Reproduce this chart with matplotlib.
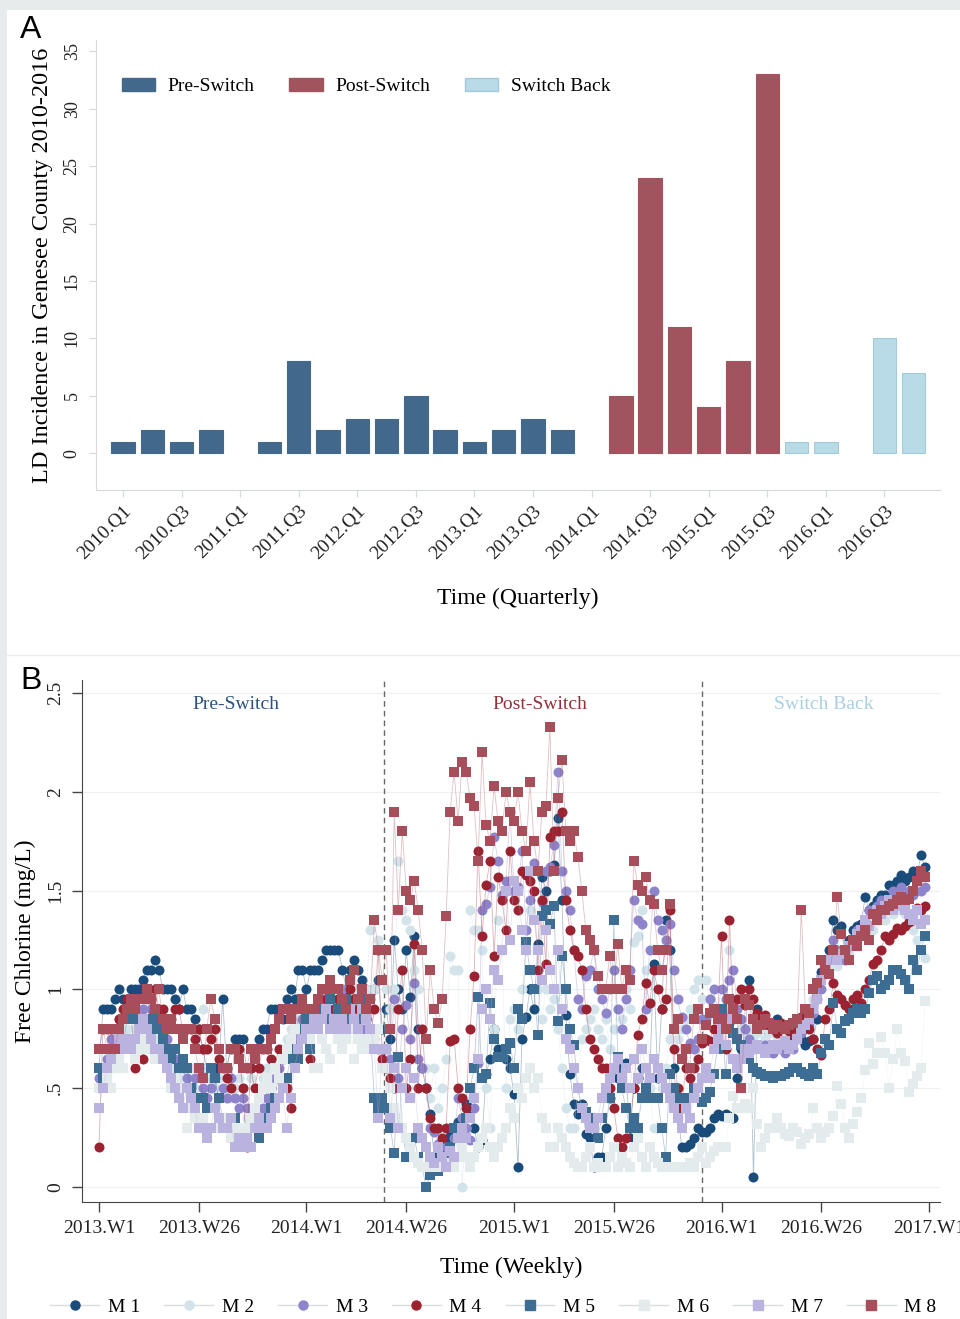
import numpy as np
import matplotlib
matplotlib.use("Agg")
from matplotlib import pyplot as plt
from matplotlib.patches import Patch, Rectangle
from matplotlib.lines import Line2D

plt.rcParams['font.family'] = ['Liberation Serif', 'DejaVu Serif']

# ---------------- Panel A data: quarterly LD cases ----------------
quarters = [f"{y}.Q{q}" for y in range(2010, 2017) for q in range(1, 5)]
cases = [1, 2, 1, 2, 0, 1, 8, 2, 3, 3, 5, 2, 1, 2, 3, 2,
         0, 5, 24, 11, 4, 8, 33, 1, 1, 0, 10, 7]
phase = (['pre'] * 17) + (['post'] * 6) + (['back'] * 5)

# ---------------- Panel B data: weekly free chlorine ----------------
week_labels = ["2013.W1", "2013.W26", "2014.W1", "2014.W26", "2015.W1",
               "2015.W26", "2016.W1", "2016.W26", "2017.W1"]
week_ticks = [0, 25, 52, 77, 104, 129, 156, 181, 208]
switch_week = 71.5
back_week = 151.2

m1 = [0.6,0.9,0.9,0.9,0.95,1.0,0.95,0.95,1.0,1.0, 1.0,1.05,1.1,1.1,1.15,1.1,1.0,1.0,1.0,0.95,
      0.9,1.0,0.9,0.9,0.85,0.8,0.7,0.6,0.6,0.6, 0.6,0.95,0.6,0.7,0.75,0.75,0.75,0.6,0.6,0.7,
      0.75,0.8,0.8,0.9,0.9,0.9,0.85,0.95,1.0,0.95, 1.1,1.1,1.0,1.1,1.1,1.1,1.15,1.2,1.2,1.2,
      1.2,1.1,1.0,1.1,1.15,1.1,1.05,1.0,0.8,1.0, 1.05,0.8,
      0.9,0.75,1.25,1.0,0.9,1.2,0.96,1.27,0.8,0.6, 0.5,0.37,0.15,0.2,0.18,0.22,0.26,0.3,0.33,0.35,
      0.42,0.4,0.3,0.2,0.24,0.57,0.65,0.8,0.7,0.68, 0.65,0.6,0.47,0.1,0.75,0.86,1.0,0.9,1.23,1.57,
      1.5,1.6,1.63,1.87,1.45,0.87,0.57,0.42,0.37,0.42, 0.27,0.25,0.1,0.15,0.15,0.3,0.45,0.6,0.55,0.6,
      0.63,0.25,0.5,0.55,0.6,0.5,0.55,1.13,0.55,0.9, 1.35,1.2,0.6,0.4,0.2,0.2,0.22,0.25,0.3,0.28,
      0.28,0.3,0.35,0.37,0.36,0.37,0.36,0.35,0.55,0.7, 0.8,1.05,0.05,0.9,0.85,0.8,0.83,0.8,0.85,0.82,
      0.8,0.81,0.78,0.8,0.75,0.72,0.74,0.75,0.85,1.09, 1.15,1.2,1.35,1.3,1.32,1.2,1.25,1.3,1.32,1.33,
      1.47,1.4,1.42,1.45,1.48,1.48,1.53,1.53,1.55,1.58, 1.55,1.57,1.6,1.58,1.68,1.62]
m2 = [0.5,0.55,0.6,0.65,0.7,0.75,0.75,0.8,0.75,0.8, 0.85,0.9,0.85,0.8,0.8,0.75,0.65,0.7,0.6,0.6,
      0.55,0.6,0.55,0.6,0.5,0.6,0.9,0.6,0.55,0.5, 0.55,0.6,0.5,0.45,0.5,0.55,0.5,0.35,0.55,0.5,
      0.45,0.55,0.6,0.65,0.6,0.7,0.65,0.75,0.8,0.8, 0.85,0.8,0.9,0.85,0.9,0.95,0.9,1.0,0.95,0.9,
      0.95,1.0,0.9,0.95,1.0,0.95,1.0,1.0,1.3,1.0, 1.25,0.6,
      1.0,0.9,1.0,1.65,1.4,1.35,1.3,1.1,1.0,0.8, 0.6,0.45,0.6,0.4,0.5,0.65,1.17,1.1,1.1,0.0,
      0.3,1.4,1.3,1.3,1.2,0.5,0.3,0.8,1.35,1.2, 0.5,0.85,0.9,0.8,1.0,1.2,1.4,1.1,1.0,0.85,
      1.0,0.9,0.95,0.8,0.6,0.4,0.3,0.3,0.5,0.75, 0.8,0.85,0.9,0.8,0.75,0.85,0.7,0.8,0.9,0.85,
      1.0,0.9,1.24,1.27,1.4,1.1,0.5,0.3,0.3,0.5, 0.6,0.75,0.8,0.75,0.8,0.85,0.9,1.0,1.05,0.95,
      1.05,0.95,0.9,0.8,0.85,0.9,1.2,0.9,0.85,0.8, 0.78,0.8,0.75,0.78,0.8,0.75,0.78,0.8,0.76,0.78,
      0.8,0.75,0.78,0.82,0.85,0.88,0.9,0.95,1.0,1.05, 1.08,1.1,1.15,1.12,1.15,1.2,1.18,1.22,1.25,1.3,
      1.28,1.32,1.3,1.35,1.38,1.35,1.4,1.38,1.42,1.4, 1.38,1.35,1.3,1.25,1.2,1.16]
m3 = [0.55,0.6,0.65,0.75,0.8,0.85,0.85,0.9,0.9,0.95, 0.85,0.9,0.95,0.9,0.85,0.8,0.7,0.75,0.7,0.65,
      0.6,0.6,0.55,0.5,0.55,0.6,0.5,0.45,0.5,0.55, 0.45,0.5,0.45,0.55,0.45,0.4,0.45,0.4,0.35,0.4,
      0.35,0.4,0.45,0.5,0.55,0.6,0.65,0.7,0.75,0.8, 0.75,0.85,0.9,0.8,0.9,0.95,0.9,0.95,1.0,0.9,
      0.95,1.0,0.85,0.9,0.95,0.9,0.8,0.85,0.95,0.75, 0.7,0.7,
      0.7,0.65,0.95,0.55,0.8,0.92,0.75,1.03,0.65,0.6, 0.5,0.3,0.28,0.22,0.15,0.2,0.16,0.25,0.45,0.35,
      0.3,0.24,0.4,0.63,1.4,1.43,1.52,1.77,1.65,1.48, 1.55,1.9,1.5,1.52,1.7,1.3,1.45,1.64,1.6,1.44,
      1.6,1.62,1.73,2.1,1.6,1.5,1.4,1.2,0.95,0.9, 1.07,1.1,1.2,1.0,0.95,0.88,1.0,1.1,0.9,0.8,
      0.95,1.1,1.45,1.35,1.33,0.9,1.2,1.5,1.35,1.3, 1.25,1.33,1.1,0.95,0.86,0.8,0.73,0.7,0.75,0.85,
      0.85,0.95,1.0,0.9,1.0,0.95,1.05,1.1,0.9,0.85, 0.8,0.75,0.7,0.72,0.7,0.72,0.7,0.68,0.72,0.7,
      0.68,0.72,0.7,0.75,0.78,0.8,0.82,0.88,0.95,1.0, 1.1,1.15,1.25,1.2,1.2,1.15,1.22,1.25,1.3,1.28,
      1.35,1.4,1.38,1.42,1.45,1.4,1.45,1.5,1.48,1.52, 1.45,1.5,1.48,1.55,1.5,1.52]
m4 = [0.2,0.8,0.8,0.8,0.8,0.85,0.9,0.95,0.9,0.6, 0.8,0.65,0.75,0.95,1.0,0.9,0.9,0.8,0.85,0.9,
      0.9,0.8,0.8,0.8,0.75,0.8,0.7,0.7,0.75,0.8, 0.65,0.6,0.55,0.5,0.7,0.7,0.5,0.2,0.6,0.5,
      0.6,0.7,0.7,0.65,0.6,0.7,0.55,0.5,0.4,0.9, 0.8,0.9,0.85,0.65,0.9,0.9,1.0,0.95,1.0,0.9,
      0.95,0.9,0.9,1.0,0.95,0.9,0.9,0.85,0.75,0.9, 1.2,0.65,
      0.6,0.55,0.5,0.9,1.1,0.5,0.65,1.23,0.5,0.8, 0.5,0.35,0.3,0.3,0.25,0.3,0.74,0.75,0.5,0.45,
      0.4,0.8,1.07,1.7,1.27,1.53,1.65,1.17,1.57,1.45, 1.3,1.7,1.45,1.4,1.6,1.58,1.55,1.5,1.1,1.45,
      1.13,1.77,1.8,1.8,1.9,1.45,1.3,1.2,1.17,1.1, 0.9,0.75,0.7,0.65,0.6,0.6,0.5,0.4,0.25,0.2,
      0.25,0.3,0.5,0.77,0.85,1.03,0.93,1.1,1.0,0.9, 0.95,1.4,0.7,0.5,0.4,0.6,0.55,0.6,0.65,0.73,
      0.75,0.74,0.8,0.85,1.27,0.7,1.35,0.85,0.95,1.0, 0.92,1.0,0.95,0.88,0.85,0.87,0.82,0.8,0.78,0.83,
      0.82,0.79,0.75,0.8,0.86,0.88,0.8,0.75,0.7,0.67, 0.85,0.9,1.03,0.97,0.95,0.92,0.9,0.95,0.97,0.93,
      1.0,1.05,1.13,1.15,1.2,1.27,1.25,1.28,1.31,1.3, 1.32,1.34,1.35,1.41,1.4,1.42]
m5 = [0.6,0.55,0.6,0.65,0.7,0.75,0.7,0.85,0.85,0.85, 0.85,0.85,0.85,0.8,0.85,0.8,0.75,0.7,0.65,0.7,
      0.6,0.65,0.6,0.5,0.45,0.6,0.45,0.4,0.6,0.55, 0.45,0.35,0.3,0.3,0.35,0.3,0.25,0.3,0.35,0.3,
      0.25,0.3,0.35,0.4,0.45,0.55,0.5,0.55,0.65,0.7, 0.65,0.8,0.85,0.7,0.8,0.85,0.9,0.85,0.95,0.85,
      0.9,0.8,0.95,0.85,0.8,0.85,0.95,0.85,0.8,0.45, 0.4,0.45,
      0.4,0.3,0.17,0.66,0.3,0.15,0.2,0.25,0.15,0.1, 0.0,0.06,0.1,0.08,0.12,0.15,0.2,0.3,0.25,0.28,
      0.35,0.5,0.6,0.96,0.55,0.57,0.93,0.75,0.66,0.66, 0.7,0.73,0.6,0.9,0.85,1.24,1.1,1.0,0.77,1.37,
      1.4,1.33,1.42,0.84,1.17,1.0,0.8,0.72,0.5,0.4, 0.38,0.35,0.3,0.25,0.35,0.5,0.45,1.35,0.66,0.5,
      0.4,0.3,0.35,0.3,0.45,0.5,0.45,0.45,0.45,0.3, 0.15,0.57,0.5,0.45,0.45,0.4,0.45,0.5,0.5,0.43,
      0.45,0.48,0.57,0.7,0.9,0.57,0.8,0.78,0.75,0.72, 0.68,0.65,0.6,0.58,0.57,0.56,0.56,0.55,0.56,0.56,
      0.57,0.58,0.6,0.6,0.58,0.57,0.56,0.6,0.57,0.68, 0.75,0.72,0.93,0.8,0.78,0.84,0.85,0.88,0.9,0.88,
      0.9,0.98,1.05,1.07,1.0,1.02,1.05,1.1,1.1,1.08, 1.05,1.0,1.15,1.1,1.2,1.27]
m6 = [0.5,0.5,0.55,0.5,0.6,0.65,0.6,0.7,0.7,0.65, 0.7,0.75,0.7,0.7,0.65,0.7,0.65,0.6,0.5,0.55,
      0.5,0.5,0.3,0.4,0.35,0.3,0.35,0.3,0.3,0.4, 0.3,0.35,0.3,0.25,0.3,0.25,0.3,0.3,0.35,0.4,
      0.45,0.5,0.55,0.5,0.6,0.55,0.65,0.7,0.75,0.8, 0.7,0.75,0.8,0.75,0.6,0.6,0.75,0.7,0.65,0.8,
      0.75,0.7,0.75,0.8,0.65,0.75,0.7,0.75,0.7,0.75, 0.8,0.6,
      0.6,0.5,0.4,0.35,0.3,0.25,0.2,0.15,0.12,0.1, 0.1,0.1,0.1,0.1,0.1,0.12,0.1,0.1,0.15,0.2,
      0.15,0.1,0.15,0.2,0.25,0.3,0.2,0.15,0.2,0.25, 0.3,0.4,0.35,0.5,0.45,0.55,0.6,0.5,0.55,0.35,
      0.3,0.2,0.2,0.3,0.25,0.2,0.15,0.12,0.1,0.1, 0.15,0.2,0.1,0.12,0.1,0.1,0.15,0.2,0.1,0.15,
      0.12,0.1,0.2,0.25,0.15,0.1,0.2,0.15,0.12,0.1, 0.1,0.1,0.1,0.1,0.1,0.1,0.12,0.1,0.15,0.2,
      0.12,0.15,0.18,0.2,0.2,0.2,0.35,0.46,0.4,0.4, 0.42,0.4,0.5,0.32,0.2,0.25,0.3,0.3,0.35,0.3,
      0.27,0.26,0.3,0.28,0.22,0.25,0.27,0.4,0.3,0.25, 0.28,0.3,0.36,0.51,0.42,0.3,0.25,0.32,0.38,0.45,
      0.59,0.73,0.62,0.68,0.76,0.68,0.5,0.65,0.8,0.68, 0.64,0.48,0.52,0.56,0.6,0.94]
m7 = [0.4,0.5,0.6,0.65,0.7,0.75,0.7,0.75,0.7,0.75, 0.8,0.85,0.8,0.75,0.7,0.7,0.65,0.6,0.55,0.5,
      0.45,0.4,0.5,0.45,0.4,0.3,0.3,0.25,0.3,0.4, 0.35,0.3,0.3,0.35,0.2,0.25,0.2,0.25,0.2,0.3,
      0.35,0.3,0.3,0.35,0.4,0.45,0.5,0.3,0.45,0.6, 0.7,0.75,0.8,0.8,0.85,0.8,0.85,0.9,0.8,0.85,
      0.8,0.85,0.8,0.9,0.85,0.8,0.9,0.85,0.8,0.7, 0.35,0.7,
      0.7,0.35,0.6,0.3,0.5,0.6,0.45,0.55,0.3,0.25, 0.2,0.15,0.12,0.2,0.15,0.1,0.18,0.15,0.25,0.3,
      0.25,0.35,0.45,0.65,0.9,1.0,0.85,1.1,1.05,1.2, 1.5,1.25,1.55,1.5,1.3,1.2,1.6,1.35,1.2,1.05,
      1.3,1.1,1.0,1.2,0.9,0.75,0.7,0.6,0.5,0.4, 0.35,0.3,0.3,0.35,0.45,0.5,0.55,0.6,0.65,0.55,
      0.6,0.5,0.65,0.55,0.7,0.6,0.55,0.65,0.6,0.55, 0.5,0.45,0.4,0.35,0.3,0.4,0.35,0.45,0.5,0.55,
      0.6,0.55,0.7,0.75,0.8,0.72,0.85,0.65,0.6,0.65, 0.7,0.68,0.7,0.72,0.7,0.68,0.7,0.72,0.7,0.72,
      0.74,0.7,0.72,0.75,0.8,0.82,0.85,0.9,0.95,1.05, 1.1,1.15,1.2,1.15,1.18,1.2,1.22,1.25,1.28,1.3,
      1.35,1.32,1.38,1.4,1.38,1.42,1.45,1.4,1.42,1.45, 1.4,1.38,1.35,1.4,1.33,1.35]
m8 = [0.7,0.8,0.7,0.8,0.7,0.8,0.85,0.9,0.95,0.9, 0.95,0.95,1.0,0.95,0.9,1.0,0.85,0.8,0.85,0.8,
      0.8,0.75,0.8,0.8,0.7,0.6,0.55,0.8,0.95,0.85, 0.7,0.6,0.6,0.7,0.7,0.65,0.6,0.6,0.7,0.65,
      0.7,0.7,0.7,0.75,0.8,0.85,0.9,0.9,0.85,0.9, 0.9,0.95,0.9,0.9,0.9,0.95,1.0,1.0,1.05,1.0,
      1.0,0.95,0.9,1.05,1.1,0.95,1.0,0.9,0.95,1.35, 1.2,1.05,
      1.2,0.8,1.9,1.4,1.8,1.5,1.45,1.55,1.4,1.2, 0.75,1.1,0.9,0.83,0.95,1.37,1.9,2.1,1.85,2.15,
      2.1,1.97,1.93,1.65,2.2,1.83,1.75,2.03,1.85,1.8, 2.0,1.9,1.85,2.0,1.8,1.7,2.05,1.75,1.6,1.9,
      1.93,2.33,1.6,1.97,2.16,1.8,1.75,1.8,1.67,1.5, 1.3,1.25,1.2,1.07,1.0,1.0,1.17,1.0,1.23,1.0,
      1.1,1.05,1.65,1.53,1.5,1.57,1.45,1.43,1.2,1.1, 1.2,1.43,0.8,0.85,0.65,0.7,0.6,0.85,0.9,0.75,
      0.82,0.88,0.9,0.85,0.85,0.8,0.95,0.9,0.85,0.5, 0.95,0.92,0.85,0.8,0.82,0.85,0.83,0.8,0.82,0.81,
      0.8,0.82,0.83,0.85,1.4,0.9,0.88,1.0,1.03,1.15, 1.1,1.08,1.2,1.47,1.28,1.2,1.15,1.25,1.22,1.27,
      1.3,1.25,1.38,1.35,1.4,1.4,1.42,1.43,1.45,1.47, 1.45,1.46,1.5,1.55,1.6,1.57]

monitors = ["M 1", "M 2", "M 3", "M 4", "M 5", "M 6", "M 7", "M 8"]
series = [m1, m2, m3, m4, m5, m6, m7, m8]

# styles
bar_colors = {'pre': '#42698b', 'post': '#a1545e', 'back': '#b9dbe7'}
bar_edges = {'pre': '#42698b', 'post': '#a1545e', 'back': '#a3cad9'}
mon_colors = ['#1a4c7b', '#d3e3ea', '#8d84cb', '#9b2230',
              '#3e6d93', '#e3ebec', '#bab3df', '#a84e5a']
mon_markers = ['o', 'o', 'o', 'o', 's', 's', 's', 's']

fig = plt.figure(figsize=(9.6, 13.19), dpi=100)
fig.patch.set_facecolor('white')
# grey frame strips like the source figure
fig.add_artist(Rectangle((0, 0), 7 / 960, 1, transform=fig.transFigure, color='#e8ebeb', lw=0))
fig.add_artist(Rectangle((0, 1 - 10 / 1319), 1, 10 / 1319, transform=fig.transFigure, color='#e8ebeb', lw=0))
fig.add_artist(Line2D([7 / 960, 1], [1 - 655 / 1319] * 2, transform=fig.transFigure, color='#eceeee', lw=1))

# ---------------- Panel A ----------------
axA = fig.add_axes([96 / 960, 1 - 490 / 1319, 844 / 960, 450 / 1319])
xq = np.arange(len(quarters))
for i, (v, p) in enumerate(zip(cases, phase)):
    if v > 0:
        axA.bar(xq[i], v, width=0.8, color=bar_colors[p], edgecolor=bar_edges[p], linewidth=0.8)
axA.set_xlim(-0.92, 27.9)
axA.set_ylim(-3.2, 36)
axA.set_yticks(range(0, 36, 5))
axA.set_xticks(xq[::2])
axA.set_xticklabels(quarters[::2], rotation=45, ha='right', va='top', rotation_mode='anchor')
for lab in axA.get_yticklabels():
    lab.set_rotation(90)
    lab.set_va('center')
axA.tick_params(axis='both', colors='#d5dada', labelcolor='#222222', labelsize=13, length=5, width=0.9)
axA.tick_params(axis='x', labelsize=14, pad=4)
axA.tick_params(axis='y', pad=6)
for s in ['top', 'right']:
    axA.spines[s].set_visible(False)
for s in ['left', 'bottom']:
    axA.spines[s].set_color('#d5dada')
axA.set_ylabel("LD Incidence in Genesee County 2010-2016", fontsize=17.5, labelpad=8)
axA.set_xlabel("Time (Quarterly)", fontsize=17, labelpad=18)
leg_handles = [Patch(facecolor=bar_colors[k], edgecolor=bar_edges[k]) for k in ['pre', 'post', 'back']]
axA.legend(leg_handles, ["Pre-Switch", "Post-Switch", "Switch Back"], loc='upper left',
           bbox_to_anchor=(0.019, 0.937), ncol=3, frameon=False, fontsize=14,
           handlelength=1.7, handleheight=0.65, handletextpad=0.65, columnspacing=1.8, borderpad=0)
fig.text(20 / 960, 1 - 38 / 1319, "A", fontsize=23, family='Liberation Sans')

# ---------------- Panel B ----------------
axB = fig.add_axes([82 / 960, 1 - 1202 / 1319, 858 / 960, 522 / 1319])
weeks = np.arange(len(m1))
for i, (vals, col, mk) in enumerate(zip(series, mon_colors, mon_markers)):
    ms = 7.2 if mk == 'o' else 6.6
    axB.plot(weeks, vals, color=col, lw=0.6, alpha=0.35, zorder=2 + i)
    axB.plot(weeks, vals, linestyle='none', marker=mk, ms=ms, mfc=col, mec=col, mew=0, zorder=3 + i)
axB.axvline(switch_week, color='#666666', lw=1, ls=(0, (4, 3)), zorder=1)
axB.axvline(back_week, color='#666666', lw=1, ls=(0, (4, 3)), zorder=1)
axB.set_xlim(-4.25, 210.75)
axB.set_ylim(-0.076, 2.566)
axB.set_yticks([0, 0.5, 1, 1.5, 2, 2.5])
axB.set_yticklabels(["0", ".5", "1", "1.5", "2", "2.5"], rotation=90, va='center')
axB.set_xticks(week_ticks)
axB.set_xticklabels(week_labels)
axB.grid(axis='y', color='#eef1f1', lw=0.9)
axB.set_axisbelow(True)
axB.tick_params(axis='both', colors='#444444', labelcolor='#222222', labelsize=14, length=7, width=1)
axB.tick_params(axis='y', pad=6)
axB.tick_params(axis='x', pad=6)
for s in ['top', 'right']:
    axB.spines[s].set_visible(False)
for s in ['left', 'bottom']:
    axB.spines[s].set_color('#444444')
axB.set_ylabel("Free Chlorine (mg/L)", fontsize=17, labelpad=8)
axB.set_xlabel("Time (Weekly)", fontsize=17, labelpad=14)
axB.text(34.25, 2.444, "Pre-Switch", color='#2b5282', fontsize=14, ha='center', va='center')
axB.text(110.5, 2.444, "Post-Switch", color='#95303b', fontsize=14, ha='center', va='center')
axB.text(181.75, 2.444, "Switch Back", color='#a9cfe0', fontsize=14, ha='center', va='center')
fig.text(20 / 960, 1 - 689 / 1319, "B", fontsize=23, family='Liberation Sans')

mon_handles = [Line2D([0], [0], color='#d9dcdc', lw=1, marker=mk, ms=6.5, mfc=col, mec=col)
               for col, mk in zip(mon_colors, mon_markers)]
fig.legend(mon_handles, monitors, loc='center', bbox_to_anchor=(0.514, 1 - 1307 / 1319), ncol=8,
           frameon=False, fontsize=14, handlelength=2.5, handletextpad=0.45, columnspacing=1.25,
           borderpad=0)

fig.savefig("out.png", dpi=100, facecolor=fig.get_facecolor())
